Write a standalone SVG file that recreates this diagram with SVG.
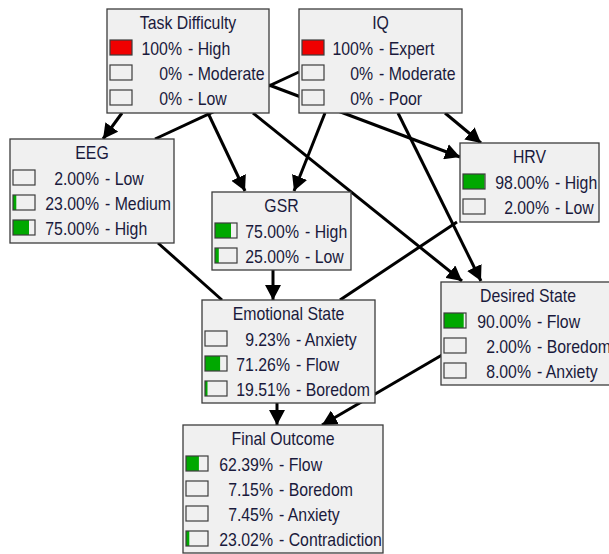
<svg xmlns="http://www.w3.org/2000/svg" width="609" height="554" viewBox="0 0 609 554">
<style>
.box{fill:#f0f0f0;stroke:#3c3c3c;stroke-width:1.3}
.bar{fill:none;stroke:#3c3c3c;stroke-width:1.2}
.g{fill:#00a800}
.r{fill:#f00000}
text{font-family:"Liberation Sans",Arial,sans-serif;font-size:18px;fill:#1a1a3c}
.v{text-anchor:end}
.c{text-anchor:middle}
.e{fill:none;stroke:#000;stroke-width:3}
.a{marker-end:url(#ah)}
</style>
<defs>
<marker id="ah" markerUnits="userSpaceOnUse" markerWidth="16" markerHeight="16" refX="15" refY="8" orient="auto">
<path d="M0,0 L15,8 L0,16 z" fill="#000"/>
</marker>
</defs>
<rect width="609" height="554" fill="#fff"/>
<g id="connectors">
<path class="e a" d="M122,113 L103,139"/>
<path class="e a" d="M208,113 L245,191"/>
<path class="e a" d="M269,85 L460,157"/>
<path class="e a" d="M253,113 L462,281"/>
<path class="e" d="M299,72 L155,139"/>
<path class="e a" d="M325,113 L294,191"/>
<path class="e a" d="M445,113 L481,143"/>
<path class="e a" d="M398,113 L481,281"/>
<path class="e" d="M158,243 L222,300"/>
<path class="e a" d="M273,270 L273,300"/>
<path class="e" d="M457,222 L340,300"/>
<path class="e a" d="M277,403 L277,425"/>
<path class="e a" d="M442,355 L322,425"/>
</g>
<g id="task-difficulty">
<rect class="box" x="107" y="9" width="162" height="104"/>
<text class="c" transform="translate(188,29) scale(.88,1)">Task Difficulty</text>
<rect class="r" x="110" y="40" width="22" height="15"/><rect class="bar" x="110" y="40" width="22" height="15"/>
<rect class="bar" x="110" y="65" width="22" height="15"/>
<rect class="bar" x="110" y="90" width="22" height="15"/>
<text class="v" transform="translate(182,54.5) scale(.88,1)">100%</text><text transform="translate(188,54.5) scale(.88,1)">- High</text>
<text class="v" transform="translate(182,79.5) scale(.88,1)">0%</text><text transform="translate(188,79.5) scale(.88,1)">- Moderate</text>
<text class="v" transform="translate(182,104.5) scale(.88,1)">0%</text><text transform="translate(188,104.5) scale(.88,1)">- Low</text>
</g>
<g id="iq">
<rect class="box" x="299" y="9" width="163" height="104"/>
<text class="c" transform="translate(380.5,29) scale(.88,1)">IQ</text>
<rect class="r" x="302" y="40" width="22" height="15"/><rect class="bar" x="302" y="40" width="22" height="15"/>
<rect class="bar" x="302" y="65" width="22" height="15"/>
<rect class="bar" x="302" y="90" width="22" height="15"/>
<text class="v" transform="translate(373,54.5) scale(.88,1)">100%</text><text transform="translate(379,54.5) scale(.88,1)">- Expert</text>
<text class="v" transform="translate(373,79.5) scale(.88,1)">0%</text><text transform="translate(379,79.5) scale(.88,1)">- Moderate</text>
<text class="v" transform="translate(373,104.5) scale(.88,1)">0%</text><text transform="translate(379,104.5) scale(.88,1)">- Poor</text>
</g>
<g id="eeg">
<rect class="box" x="10" y="139" width="164" height="104"/>
<text class="c" transform="translate(92,159) scale(.88,1)">EEG</text>
<rect class="bar" x="13" y="170" width="22" height="15"/>
<rect class="g" x="13" y="195" width="3.3" height="15"/><rect class="bar" x="13" y="195" width="22" height="15"/>
<rect class="g" x="13" y="220" width="16" height="15"/><rect class="bar" x="13" y="220" width="22" height="15"/>
<text class="v" transform="translate(99,184.5) scale(.88,1)">2.00%</text><text transform="translate(105,184.5) scale(.88,1)">- Low</text>
<text class="v" transform="translate(99,209.5) scale(.88,1)">23.00%</text><text transform="translate(105,209.5) scale(.88,1)">- Medium</text>
<text class="v" transform="translate(99,234.5) scale(.88,1)">75.00%</text><text transform="translate(105,234.5) scale(.88,1)">- High</text>
</g>
<g id="gsr">
<rect class="box" x="212" y="192" width="139" height="78"/>
<text class="c" transform="translate(281.5,212) scale(.88,1)">GSR</text>
<rect class="g" x="215" y="223" width="16" height="15"/><rect class="bar" x="215" y="223" width="22" height="15"/>
<rect class="g" x="215" y="248" width="3.8" height="15"/><rect class="bar" x="215" y="248" width="22" height="15"/>
<text class="v" transform="translate(299,237.5) scale(.88,1)">75.00%</text><text transform="translate(305,237.5) scale(.88,1)">- High</text>
<text class="v" transform="translate(299,262.5) scale(.88,1)">25.00%</text><text transform="translate(305,262.5) scale(.88,1)">- Low</text>
</g>
<g id="hrv">
<rect class="box" x="460" y="143" width="139" height="79"/>
<text class="c" transform="translate(529.5,163) scale(.88,1)">HRV</text>
<rect class="g" x="463" y="174" width="21.6" height="15"/><rect class="bar" x="463" y="174" width="22" height="15"/>
<rect class="bar" x="463" y="199" width="22" height="15"/>
<text class="v" transform="translate(549,188.5) scale(.88,1)">98.00%</text><text transform="translate(555,188.5) scale(.88,1)">- High</text>
<text class="v" transform="translate(549,213.5) scale(.88,1)">2.00%</text><text transform="translate(555,213.5) scale(.88,1)">- Low</text>
</g>
<g id="emotional-state">
<rect class="box" x="202" y="300" width="173" height="103"/>
<text class="c" transform="translate(288.5,320) scale(.88,1)">Emotional State</text>
<rect class="bar" x="205" y="331" width="22" height="15"/>
<rect class="g" x="205" y="356" width="15.1" height="15"/><rect class="bar" x="205" y="356" width="22" height="15"/>
<rect class="g" x="205" y="381" width="2.5" height="15"/><rect class="bar" x="205" y="381" width="22" height="15"/>
<text class="v" transform="translate(290,345.5) scale(.88,1)">9.23%</text><text transform="translate(296,345.5) scale(.88,1)">- Anxiety</text>
<text class="v" transform="translate(290,370.5) scale(.88,1)">71.26%</text><text transform="translate(296,370.5) scale(.88,1)">- Flow</text>
<text class="v" transform="translate(290,395.5) scale(.88,1)">19.51%</text><text transform="translate(296,395.5) scale(.88,1)">- Boredom</text>
</g>
<g id="desired-state">
<rect class="box" x="441" y="282" width="174" height="103"/>
<text class="c" transform="translate(528,302) scale(.88,1)">Desired State</text>
<rect class="g" x="444" y="313" width="19.7" height="15"/><rect class="bar" x="444" y="313" width="22" height="15"/>
<rect class="bar" x="444" y="338" width="22" height="15"/>
<rect class="bar" x="444" y="363" width="22" height="15"/>
<text class="v" transform="translate(531,327.5) scale(.88,1)">90.00%</text><text transform="translate(537,327.5) scale(.88,1)">- Flow</text>
<text class="v" transform="translate(531,352.5) scale(.88,1)">2.00%</text><text transform="translate(537,352.5) scale(.88,1)">- Boredom</text>
<text class="v" transform="translate(531,377.5) scale(.88,1)">8.00%</text><text transform="translate(537,377.5) scale(.88,1)">- Anxiety</text>
</g>
<g id="final-outcome">
<rect class="box" x="183" y="425" width="200" height="128"/>
<text class="c" transform="translate(283,445) scale(.88,1)">Final Outcome</text>
<rect class="g" x="186" y="456" width="12.9" height="15"/><rect class="bar" x="186" y="456" width="22" height="15"/>
<rect class="bar" x="186" y="481" width="22" height="15"/>
<rect class="bar" x="186" y="506" width="22" height="15"/>
<rect class="g" x="186" y="531" width="3.3" height="15"/><rect class="bar" x="186" y="531" width="22" height="15"/>
<text class="v" transform="translate(273,470.5) scale(.88,1)">62.39%</text><text transform="translate(279,470.5) scale(.88,1)">- Flow</text>
<text class="v" transform="translate(273,495.5) scale(.88,1)">7.15%</text><text transform="translate(279,495.5) scale(.88,1)">- Boredom</text>
<text class="v" transform="translate(273,520.5) scale(.88,1)">7.45%</text><text transform="translate(279,520.5) scale(.88,1)">- Anxiety</text>
<text class="v" transform="translate(273,545.5) scale(.88,1)">23.02%</text><text transform="translate(279,545.5) scale(.88,1)">- Contradiction</text>
</g>
</svg>
